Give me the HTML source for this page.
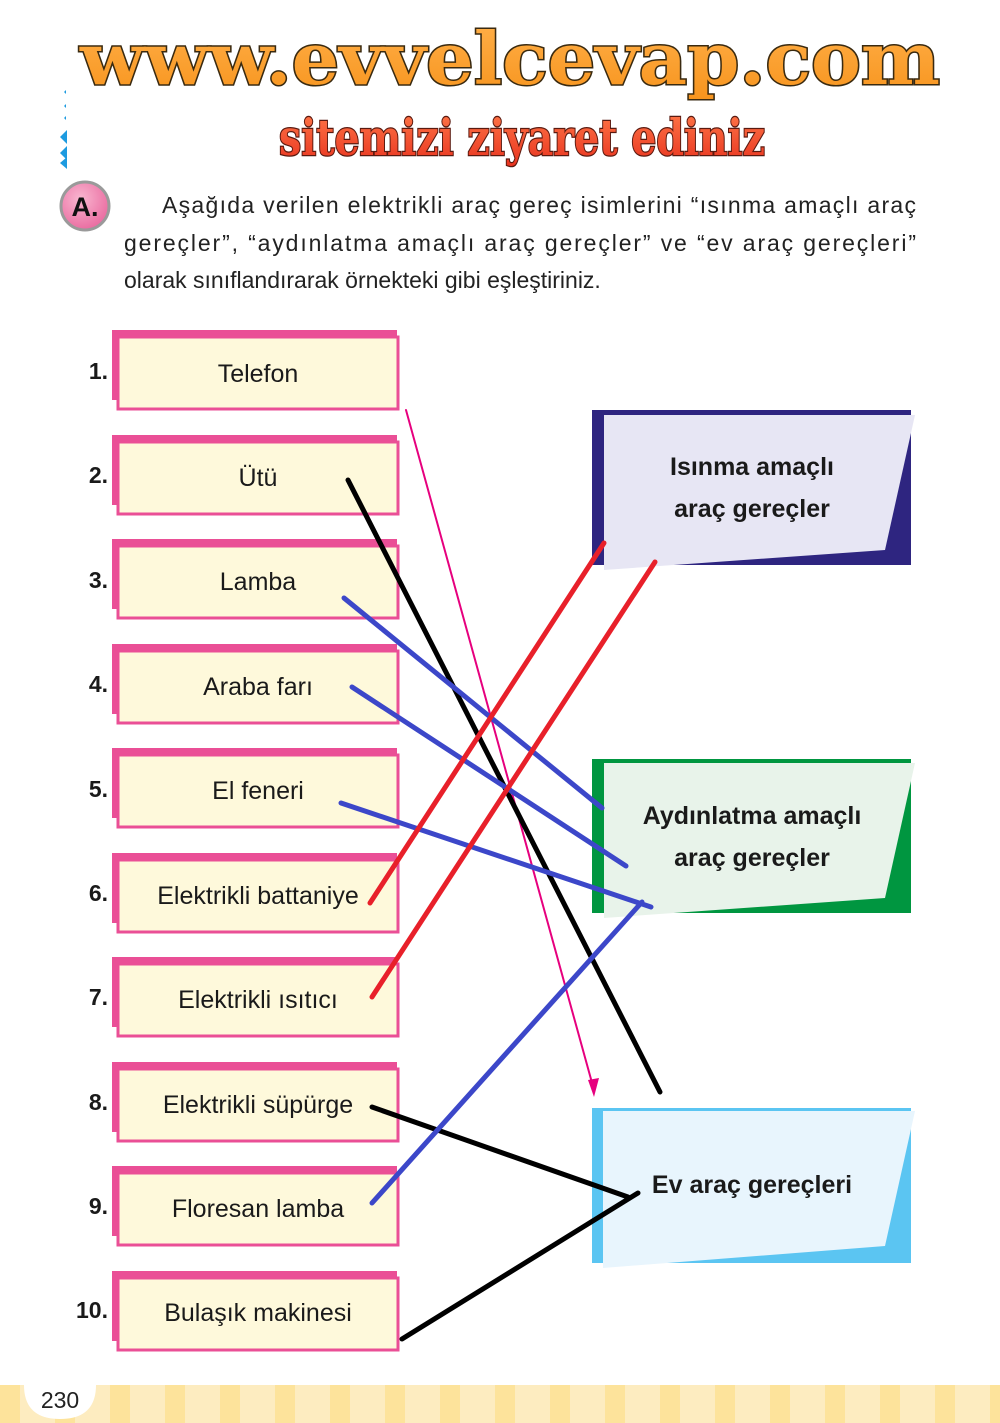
<!DOCTYPE html>
<html><head><meta charset="utf-8"><style>
body{margin:0;background:#fff;}
svg{display:block;}
</style></head><body>
<svg width="1000" height="1423" viewBox="0 0 1000 1423" xmlns="http://www.w3.org/2000/svg" font-family="Liberation Sans, sans-serif">
<defs>
<linearGradient id="og" x1="0" y1="0" x2="0" y2="1"><stop offset="0" stop-color="#ffb04a"/><stop offset="1" stop-color="#f7941d"/></linearGradient>
<linearGradient id="rg" x1="0" y1="0" x2="0" y2="1"><stop offset="0" stop-color="#ff7a4a"/><stop offset="1" stop-color="#e8321e"/></linearGradient>
<radialGradient id="pg" cx="0.4" cy="0.35" r="0.7"><stop offset="0" stop-color="#f9b6d0"/><stop offset="1" stop-color="#e9689e"/></radialGradient>
<pattern id="st" x="0" y="0" width="55" height="40" patternUnits="userSpaceOnUse"><rect x="0" y="0" width="55" height="40" fill="#fdecc0"/><rect x="0" y="0" width="20" height="40" fill="#fde39b"/></pattern>
</defs>
<!-- header -->
<text x="510" y="84" text-anchor="middle" font-family="DejaVu Serif, serif" font-weight="bold" font-size="72" fill="url(#og)" stroke="#3a2a10" stroke-width="3" paint-order="stroke" textLength="860" lengthAdjust="spacingAndGlyphs">www.evvelcevap.com</text>
<text x="522" y="155" text-anchor="middle" font-family="DejaVu Serif, serif" font-weight="bold" font-size="50" fill="url(#rg)" stroke="#5a1a10" stroke-width="2.5" paint-order="stroke" textLength="486" lengthAdjust="spacingAndGlyphs">sitemizi ziyaret ediniz</text>
<g fill="#1e9be0"><polygon points="66,90 64,92 66,94"/><polygon points="66,104 64,106 66,108"/><polygon points="66,116 64,118 66,120"/><polygon points="67,130 60,137 67,144"/><polygon points="67,146 60,153 67,160"/><polygon points="67,157 60,163 67,169"/></g>
<!-- A circle -->
<circle cx="85" cy="206" r="24" fill="url(#pg)" stroke="#9a9a9a" stroke-width="3"/>
<text x="85" y="216" text-anchor="middle" font-weight="bold" font-size="27" fill="#111">A.</text>
<g font-size="23" fill="#222">
<text x="162" y="213" textLength="754" lengthAdjust="spacing">Aşağıda verilen elektrikli araç gereç isimlerini “ısınma amaçlı araç</text>
<text x="124" y="251" textLength="792" lengthAdjust="spacing">gereçler”, “aydınlatma amaçlı araç gereçler” ve “ev araç gereçleri”</text>
<text x="124" y="288">olarak sınıflandırarak örnekteki gibi eşleştiriniz.</text>
</g>
<!-- left boxes -->
<g>
<g transform="translate(0,0)"><rect x="112" y="330" width="285" height="70" fill="#ea4f96"/><rect x="118" y="337" width="280" height="72" fill="#fef9db" stroke="#ea4f96" stroke-width="3"/></g>
<g transform="translate(0,105)"><rect x="112" y="330" width="285" height="70" fill="#ea4f96"/><rect x="118" y="337" width="280" height="72" fill="#fef9db" stroke="#ea4f96" stroke-width="3"/></g>
<g transform="translate(0,209)"><rect x="112" y="330" width="285" height="70" fill="#ea4f96"/><rect x="118" y="337" width="280" height="72" fill="#fef9db" stroke="#ea4f96" stroke-width="3"/></g>
<g transform="translate(0,314)"><rect x="112" y="330" width="285" height="70" fill="#ea4f96"/><rect x="118" y="337" width="280" height="72" fill="#fef9db" stroke="#ea4f96" stroke-width="3"/></g>
<g transform="translate(0,418)"><rect x="112" y="330" width="285" height="70" fill="#ea4f96"/><rect x="118" y="337" width="280" height="72" fill="#fef9db" stroke="#ea4f96" stroke-width="3"/></g>
<g transform="translate(0,523)"><rect x="112" y="330" width="285" height="70" fill="#ea4f96"/><rect x="118" y="337" width="280" height="72" fill="#fef9db" stroke="#ea4f96" stroke-width="3"/></g>
<g transform="translate(0,627)"><rect x="112" y="330" width="285" height="70" fill="#ea4f96"/><rect x="118" y="337" width="280" height="72" fill="#fef9db" stroke="#ea4f96" stroke-width="3"/></g>
<g transform="translate(0,732)"><rect x="112" y="330" width="285" height="70" fill="#ea4f96"/><rect x="118" y="337" width="280" height="72" fill="#fef9db" stroke="#ea4f96" stroke-width="3"/></g>
<g transform="translate(0,836)"><rect x="112" y="330" width="285" height="70" fill="#ea4f96"/><rect x="118" y="337" width="280" height="72" fill="#fef9db" stroke="#ea4f96" stroke-width="3"/></g>
<g transform="translate(0,941)"><rect x="112" y="330" width="285" height="70" fill="#ea4f96"/><rect x="118" y="337" width="280" height="72" fill="#fef9db" stroke="#ea4f96" stroke-width="3"/></g>
</g>
<g font-size="25" fill="#1a1a1a" text-anchor="middle">
<text x="258" y="382">Telefon</text>
<text x="258" y="486">Ütü</text>
<text x="258" y="590">Lamba</text>
<text x="258" y="695">Araba farı</text>
<text x="258" y="799">El feneri</text>
<text x="258" y="904">Elektrikli battaniye</text>
<text x="258" y="1008">Elektrikli ısıtıcı</text>
<text x="258" y="1113">Elektrikli süpürge</text>
<text x="258" y="1217">Floresan lamba</text>
<text x="258" y="1321">Bulaşık makinesi</text>
</g>
<g font-size="23" font-weight="bold" fill="#1a1a1a" text-anchor="end">
<text x="108" y="379">1.</text>
<text x="108" y="483">2.</text>
<text x="108" y="588">3.</text>
<text x="108" y="692">4.</text>
<text x="108" y="797">5.</text>
<text x="108" y="901">6.</text>
<text x="108" y="1005">7.</text>
<text x="108" y="1110">8.</text>
<text x="108" y="1214">9.</text>
<text x="108" y="1318">10.</text>
</g>
<!-- right boxes -->
<rect x="592" y="410" width="319" height="155" fill="#2e2580"/>
<polygon points="604,415 915,415 885,550 604,570" fill="#e7e6f4"/>
<text x="752" y="475" text-anchor="middle" font-size="25" font-weight="bold" fill="#1a1a1a">Isınma amaçlı</text>
<text x="752" y="517" text-anchor="middle" font-size="25" font-weight="bold" fill="#1a1a1a">araç gereçler</text>
<rect x="592" y="759" width="319" height="154" fill="#009640"/>
<polygon points="604,763 915,763 885,898 604,918" fill="#e8f3ea"/>
<text x="752" y="824" text-anchor="middle" font-size="25" font-weight="bold" fill="#1a1a1a">Aydınlatma amaçlı</text>
<text x="752" y="866" text-anchor="middle" font-size="25" font-weight="bold" fill="#1a1a1a">araç gereçler</text>
<rect x="592" y="1108" width="319" height="155" fill="#5bc5f2"/>
<polygon points="603,1111 915,1111 885,1246 603,1268" fill="#e8f5fd"/>
<text x="752" y="1193" text-anchor="middle" font-size="25" font-weight="bold" fill="#1a1a1a">Ev araç gereçleri</text>
<!-- lines -->
<g stroke-linecap="round" fill="none">
<line x1="406" y1="410" x2="594" y2="1090" stroke="#e6007e" stroke-width="2"/>
<polygon points="594,1097 588,1080 599,1078" fill="#e6007e" stroke="none"/>
<line x1="348" y1="480" x2="660" y2="1092" stroke="#000" stroke-width="5"/>
<line x1="344" y1="598" x2="602" y2="808" stroke="#3c47c9" stroke-width="5"/>
<line x1="352" y1="687" x2="626" y2="866" stroke="#3c47c9" stroke-width="5"/>
<line x1="341" y1="803" x2="651" y2="907" stroke="#3c47c9" stroke-width="5"/>
<line x1="370" y1="903" x2="604" y2="543" stroke="#e8202a" stroke-width="5"/>
<line x1="372" y1="997" x2="655" y2="562" stroke="#e8202a" stroke-width="5"/>
<line x1="372" y1="1107" x2="628" y2="1197" stroke="#000" stroke-width="5"/>
<line x1="372" y1="1203" x2="642" y2="902" stroke="#3c47c9" stroke-width="5"/>
<line x1="402" y1="1339" x2="638" y2="1193" stroke="#000" stroke-width="5"/>
</g>
<!-- footer -->
<rect x="0" y="1385" width="1000" height="38" fill="url(#st)"/>
<path d="M24,1385 L96,1385 Q96,1419 60,1419 Q24,1419 24,1385 Z" fill="#fff"/>
<text x="60" y="1408" text-anchor="middle" font-size="23" fill="#222">230</text>
</svg>
</body></html>
